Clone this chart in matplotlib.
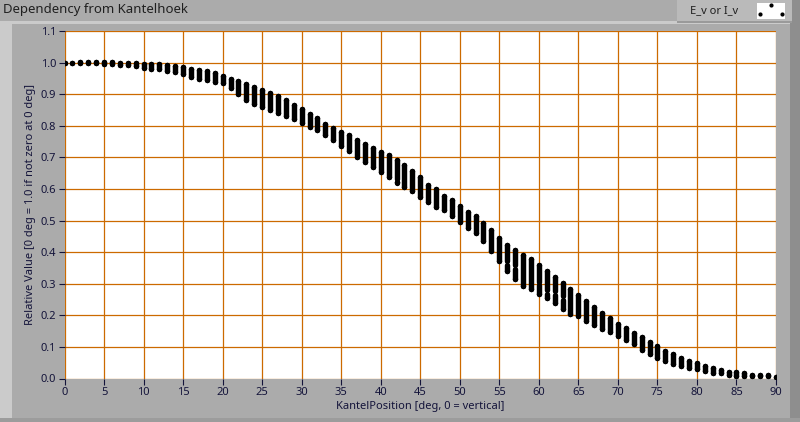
import numpy as np
import matplotlib
matplotlib.use("Agg")
import matplotlib.pyplot as plt
from matplotlib.patches import Rectangle

plt.rcParams['font.family'] = ['Noto Sans', 'DejaVu Sans']

# Kantel angle in degrees, and the highest / lowest relative value measured there
graden = list(range(0, 91))
hoog = [1.000, 1.000, 1.001, 1.001, 1.002, 1.001, 1.001, 1.000, 0.999, 0.999,
        0.996, 0.996, 0.995, 0.993, 0.989, 0.987, 0.979, 0.976, 0.972, 0.966,
        0.959, 0.949, 0.943, 0.933, 0.923, 0.913, 0.903, 0.894, 0.882, 0.866,
        0.853, 0.837, 0.825, 0.806, 0.794, 0.781, 0.771, 0.755, 0.742, 0.729,
        0.718, 0.706, 0.693, 0.676, 0.658, 0.638, 0.614, 0.600, 0.579, 0.564,
        0.546, 0.527, 0.514, 0.491, 0.469, 0.446, 0.424, 0.408, 0.392, 0.377,
        0.358, 0.339, 0.320, 0.302, 0.282, 0.263, 0.245, 0.226, 0.206, 0.190,
        0.174, 0.159, 0.143, 0.131, 0.115, 0.103, 0.087, 0.076, 0.065, 0.055,
        0.048, 0.039, 0.034, 0.028, 0.022, 0.019, 0.016, 0.012, 0.010, 0.010,
        0.004]
laag = [1.000, 0.998, 0.998, 0.998, 0.998, 0.996, 0.995, 0.993, 0.992, 0.988,
        0.984, 0.980, 0.979, 0.972, 0.971, 0.965, 0.955, 0.947, 0.945, 0.937,
        0.935, 0.919, 0.900, 0.882, 0.868, 0.858, 0.850, 0.841, 0.831, 0.821,
        0.810, 0.795, 0.787, 0.771, 0.755, 0.736, 0.721, 0.702, 0.686, 0.671,
        0.653, 0.639, 0.623, 0.607, 0.595, 0.573, 0.560, 0.542, 0.532, 0.513,
        0.494, 0.477, 0.462, 0.434, 0.403, 0.373, 0.339, 0.315, 0.294, 0.282,
        0.268, 0.255, 0.238, 0.220, 0.205, 0.199, 0.183, 0.170, 0.157, 0.146,
        0.136, 0.123, 0.109, 0.091, 0.077, 0.066, 0.056, 0.047, 0.039, 0.032,
        0.030, 0.024, 0.018, 0.016, 0.010, 0.009, 0.009, 0.009, 0.009, 0.009,
        0.004]
# angles where the cloud of points splits in two groups, and where
gesplitst = [42, 56, 57, 60, 61, 62, 63]
splitwaarde = [0.626, 0.365, 0.354, 0.301, 0.275, 0.270, 0.254]

titel = "Dependency from Kantelhoek"
legenda = "E_v or I_v"
xlabel = "KantelPosition [deg, 0 = vertical]"
ylabel = "Relative Value [0 deg = 1.0 if not zero at 0 deg]"

W, H = 800, 422
grijs = '#ababab'
oranje = '#cc6a00'
tekstkleur = '#14143a'

fig = plt.figure(figsize=(W / 100, H / 100), dpi=100, facecolor=grijs)

def px_rect(x, y, w, h, kleur):
    fig.add_artist(Rectangle((x / W, 1 - (y + h) / H), w / W, h / H,
                             transform=fig.transFigure, facecolor=kleur,
                             edgecolor='none', zorder=0))

# LabVIEW-ish frame
px_rect(0, 21, 792, 3, '#cbcbcb')
px_rect(0, 21, 12, 401, '#cbcbcb')
px_rect(790, 0, 10, 422, '#8e8e8e')
px_rect(0, 418, 800, 4, '#9c9c9c')
px_rect(677, 0, 115, 23, '#bababa')
px_rect(677, 21, 115, 2, '#9a9a9a')

fig.text(3 / W, 1 - 10 / H, titel, fontsize=9.5, color='#202020',
         ha='left', va='center')
fig.text(690 / W, 1 - 11 / H, legenda, fontsize=8, color='#202020',
         ha='left', va='center')

# legend swatch with point style
sw = fig.add_axes([757 / W, 1 - 19 / H, 28 / W, 16 / H])
sw.set_facecolor('white')
sw.set_xlim(0, 1)
sw.set_ylim(0, 1)
sw.plot([0.5, 0.1, 0.9], [0.85, 0.3, 0.3], 'o', color='black', markersize=3,
        markeredgewidth=0)
sw.set_xticks([])
sw.set_yticks([])
for s in sw.spines.values():
    s.set_visible(False)

ax = fig.add_axes([64.5 / W, 1 - 378.5 / H, (776 - 64.5) / W, (378.5 - 31) / H])
ax.set_facecolor('white')
ax.set_xlim(0, 90)
ax.set_ylim(0, 1.1)
ax.set_xticks(np.arange(0, 91, 5))
ax.set_yticks(np.arange(0, 1.11, 0.1))
ax.set_yticklabels([f"{v:.1f}" for v in np.arange(0, 1.11, 0.1)])
ax.grid(True, color=oranje, linewidth=0.9)
ax.set_axisbelow(True)
for s in ax.spines.values():
    s.set_visible(False)
ax.tick_params(direction='out', length=4, width=0.8, color=tekstkleur,
               labelsize=8, labelcolor=tekstkleur, pad=2)

# each angle: a vertical run of points, drawn as a round-capped stroke
dikte = 3.9
for d, h, l in zip(graden, hoog, laag):
    if d in gesplitst:
        g = splitwaarde[gesplitst.index(d)]
        delen = [(l, g - 0.006), (g + 0.006, h)]
    else:
        delen = [(l, h)]
    for a, b in delen:
        ax.plot([d, d], [a, b], color='black', linewidth=dikte,
                solid_capstyle='round', clip_on=True, zorder=3)
ax.plot(graden, hoog, 'o', color='black', markersize=dikte,
        markeredgewidth=0, zorder=3)
ax.plot(graden, laag, 'o', color='black', markersize=dikte,
        markeredgewidth=0, zorder=3)

ax.set_xlabel(xlabel, fontsize=8, color=tekstkleur, labelpad=2)
ax.set_ylabel(ylabel, fontsize=8, color=tekstkleur, labelpad=3)

fig.savefig('out.png', dpi=100, facecolor=grijs)
